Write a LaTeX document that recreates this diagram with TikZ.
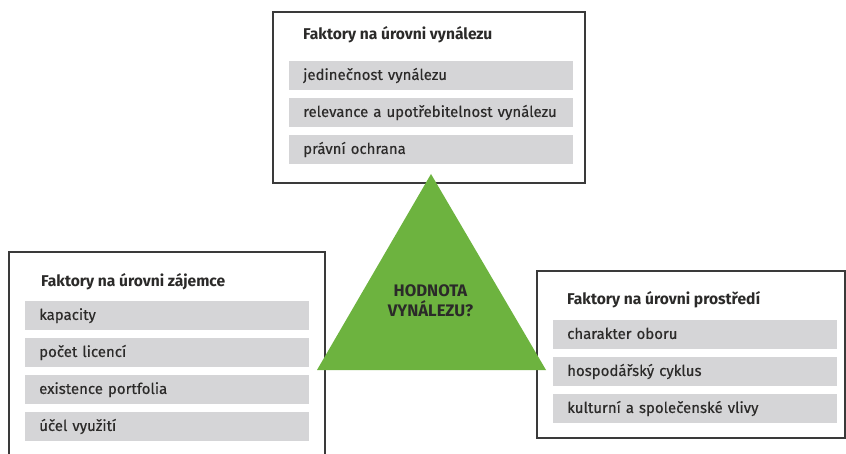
\documentclass[tikz,border=0pt]{standalone}
\usepackage{fontspec}
\setmainfont{Fira Sans}
\newfontfamily\itemfont[FakeBold=0.35]{Fira Sans}
\definecolor{inkc}{HTML}{2B2A29}
\definecolor{framec}{HTML}{3A3A3A}
\definecolor{barc}{HTML}{D5D5D7}
\definecolor{greenc}{HTML}{6DB33F}
\tikzset{
  frame/.style={draw=framec, line width=1.4pt, fill=white},
  factorbar/.style={fill=barc, anchor=north west, minimum height=28.5pt,
    text width=256pt, inner xsep=14pt, inner ysep=0pt, align=left,
    text height=11.5pt, text depth=2.5pt, font=\itemfont\fontsize{15}{18}\selectfont, text=inkc},
  heading/.style={anchor=base west, inner sep=0pt, text=inkc,
    font=\fontsize{15.6}{18}\selectfont\bfseries},
  core/.style={align=center, text=inkc, inner sep=0pt,
    font=\fontsize{16.7}{20}\selectfont\bfseries}
}
\begin{document}
\begin{tikzpicture}[x=1pt, y=-1pt]
\useasboundingbox (0,0) rectangle (846,454);

% three frames of factors
\draw[frame] (273,12) rectangle (585,183);
\draw[frame] (9,252) rectangle (325,470);
\draw[frame] (537,271) rectangle (845,438);

% inventive level
\node[heading] (tt) at (303,40) {Faktory na úrovni vynálezu};
\node[factorbar] (t1) at (289,61)  {jedinečnost vynálezu};
\node[factorbar] (t2) at (289,98)  {relevance a upotřebitelnost vynálezu};
\node[factorbar] (t3) at (289,135) {právní ochrana};

% licensee level
\node[heading] (lt) at (41,286.5) {Faktory na úrovni zájemce};
\node[factorbar] (l1) at (25,301) {kapacity};
\node[factorbar] (l2) at (25,338) {počet licencí};
\node[factorbar] (l3) at (25,375) {existence portfolia};
\node[factorbar] (l4) at (25,412) {účel využití};

% environment level
\node[heading] (rt) at (567,305) {Faktory na úrovni prostředí};
\node[factorbar] (r1) at (553,320) {charakter oboru};
\node[factorbar] (r2) at (553,357) {hospodářský cyklus};
\node[factorbar] (r3) at (553,394) {kulturní a společenské vlivy};

% central triangle
\coordinate (apex) at (431,174);
\coordinate (bl) at (317,370);
\coordinate (br) at (546,370);
\fill[greenc] (apex) -- (bl) -- (br) -- cycle;
\node[core] (value) at (430.5,301) {HODNOTA\\VYNÁLEZU?};
\end{tikzpicture}
\end{document}
